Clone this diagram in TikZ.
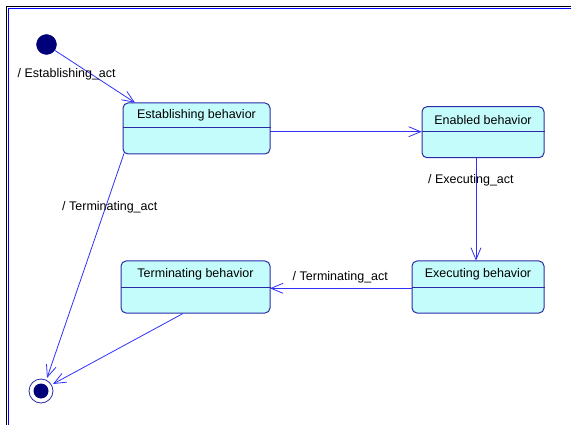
\documentclass[tikz,border=0pt]{standalone}
\usepackage{fontspec}
\setmainfont{Liberation Sans}
\usetikzlibrary{arrows.meta}
\definecolor{boxfill}{HTML}{C4FCFC}
\definecolor{boxline}{HTML}{2B2BA8}
\definecolor{conn}{HTML}{3030F8}
\definecolor{navy}{HTML}{000078}
\tikzset{
  statebox/.style={draw=boxline, fill=boxfill, line width=1pt, rounded corners=5pt, inner sep=0pt},
  sep/.style={draw=boxline, line width=0.9pt},
  title/.style={font=\fontsize{12.5}{14}\selectfont, inner sep=0pt},
  lbl/.style={font=\fontsize{12.5}{14}\selectfont, inner sep=0pt, anchor=west},
  conn/.style={draw=conn, line width=0.8pt, -{Straight Barb[length=12pt,width=10pt,line width=0.8pt]}},
}
\begin{document}
\begin{tikzpicture}[x=1pt,y=-1pt]
\useasboundingbox (0,0) rectangle (571,425);
% frame
\draw[black, line width=1.5pt] (6.5,425) -- (6.5,6.5) -- (571,6.5);
\draw[blue, line width=1pt] (8.5,425) -- (8.5,8.5) -- (571,8.5);
% initial and final
\node[circle, fill=navy, draw=navy, minimum size=20pt, inner sep=0pt] (init) at (46.5,44.5) {};
\node[circle, draw=boxline, fill=white, line width=0.8pt, minimum size=24pt, inner sep=0pt] (final) at (41,391) {};
\node[circle, fill=navy, minimum size=15pt, inner sep=0pt] (finalin) at (41,391) {};
% states
\node[statebox, minimum width=147pt, minimum height=51pt] (est) at (196.5,128.5) {};
\node[statebox, minimum width=122pt, minimum height=51pt] (ena) at (483,132.2) {};
\node[statebox, minimum width=132pt, minimum height=52pt] (exe) at (478,287) {};
\node[statebox, minimum width=149pt, minimum height=52pt] (ter) at (195.5,287) {};
% separators
\draw[sep] ([yshift=-24.6pt]est.north west) -- ([yshift=-24.6pt]est.north east);
\draw[sep] ([yshift=-25pt]ena.north west) -- ([yshift=-25pt]ena.north east);
\draw[sep] ([yshift=-26.6pt]exe.north west) -- ([yshift=-26.6pt]exe.north east);
\draw[sep] ([yshift=-26.6pt]ter.north west) -- ([yshift=-26.6pt]ter.north east);
% titles
\node[title] (estt) at (196.5,115.7) {Establishing behavior};
\node[title] (enat) at (483,120) {Enabled behavior};
\node[title] (exet) at (478,274) {Executing behavior};
\node[title] (tert) at (195.5,274) {Terminating behavior};
% connector end coordinates
\coordinate (a1) at (55,50.5);
\coordinate (a2) at (135,102.7);
\coordinate (b1) at (270,131.7);
\coordinate (b2) at (421.7,131.7);
\coordinate (c1) at (476,157.7);
\coordinate (c2) at (476,260.7);
\coordinate (d1) at (412,288.3);
\coordinate (d2) at (270,288.3);
\coordinate (e1) at (124,153.5);
\coordinate (e2) at (47,378);
\coordinate (f1) at (183,313.5);
\coordinate (f2) at (53,384);
% connectors
\draw[conn] (a1) -- (a2);
\draw[conn] (b1) -- (b2);
\draw[conn] (c1) -- (c2);
\draw[conn] (d1) -- (d2);
\draw[conn] (e1) -- (e2);
\draw[conn] (f1) -- (f2);
% labels
\node[lbl] (l1) at (17.5,74) {/ Establishing\_act};
\node[lbl] (l2) at (428,180.5) {/ Executing\_act};
\node[lbl] (l3) at (292.5,277.5) {/ Terminating\_act};
\node[lbl] (l4) at (62,207) {/ Terminating\_act};
\end{tikzpicture}
\end{document}
